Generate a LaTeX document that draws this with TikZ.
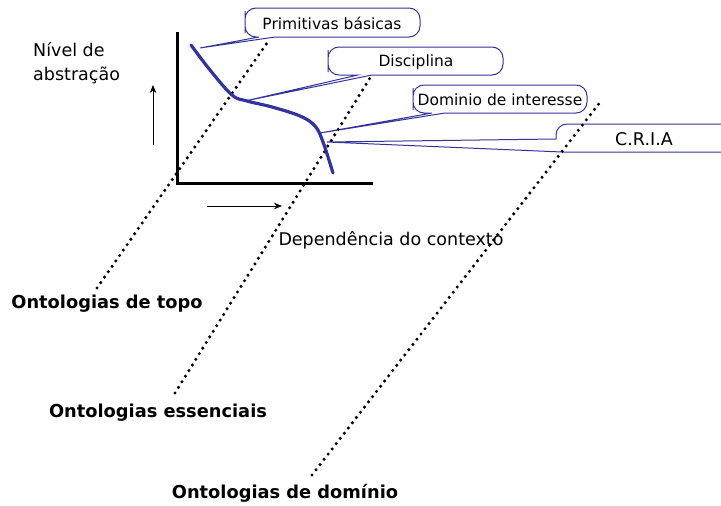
\documentclass[tikz,border=0pt]{standalone}
\usepackage{fontspec}
\setmainfont{DejaVu Sans}
\usetikzlibrary{arrows.meta}
\definecolor{calloutblue}{RGB}{51,51,153}
\definecolor{curveblue}{RGB}{51,51,160}
\tikzset{
  txt/.style={inner sep=0pt, font=\fontsize{15.5}{25}\selectfont},
  bigtxt/.style={inner sep=0pt, font=\fontsize{17.5}{25}\selectfont},
  boldtxt/.style={inner sep=0pt, font=\fontsize{17.8}{22}\selectfont\bfseries},
  callout/.style={draw=calloutblue, line width=1pt, fill=white},
  axis/.style={line width=3pt, black},
  dotline/.style={line width=3.4pt, line cap=round, dash pattern=on 0pt off 6.6pt, black},
  smallarrow/.style={line width=1pt, -{Stealth[length=8pt,width=6.5pt]}},
}
\begin{document}
\begin{tikzpicture}[x=1pt,y=-1pt]
\useasboundingbox (0,0) rectangle (721,506);
\clip (0,0) rectangle (721,506);

% axes
\coordinate (ytop) at (177,32);
\coordinate (origin) at (177,183);
\coordinate (xend) at (373,183);
\draw[axis] (ytop) -- (origin) -- (xend);

% small arrows
\coordinate (ua1) at (153,145);
\coordinate (ua2) at (153,85);
\draw[smallarrow] (ua1) -- (ua2);
\coordinate (ra1) at (207,206);
\coordinate (ra2) at (282,206);
\draw[smallarrow] (ra1) -- (ra2);

% dotted lines
\coordinate (d1a) at (97,288);  \coordinate (d1b) at (267,43);
\coordinate (d2a) at (175,393); \coordinate (d2b) at (370,78);
\coordinate (d3a) at (312,475); \coordinate (d3b) at (601,101);

% callouts
\draw[callout] (245,22) [rounded corners=11pt] -- (245,37) [sharp corners] -- (259,37) -- (200,48) -- (275,37) [rounded corners=11pt] -- (420,37) -- (420,8) -- (245,8) -- cycle;
\draw[callout] (328,61) [rounded corners=11pt] -- (328,75) [sharp corners] -- (358,75) -- (245,101) -- (372,75) [rounded corners=11pt] -- (503,75) -- (503,47) -- (328,47) -- cycle;
\draw[callout] (413,99) [rounded corners=11pt] -- (413,113) [sharp corners] -- (432,113) -- (320,133) -- (445,113) [rounded corners=11pt] -- (587,113) -- (587,85) -- (413,85) -- cycle;
\draw[callout] (620,124) [rounded corners=11pt] -- (556,124) [sharp corners] -- (556,139) -- (327,142) -- (562,152) [rounded corners=11pt] -- (745,152) -- (745,124) -- cycle;

% dotted lines on top
\draw[dotline] (d1a) -- (d1b);
\draw[dotline] (d2a) -- (d2b);
\draw[dotline] (d3a) -- (d3b);

% curve
\draw[curveblue, line width=3.2pt, line cap=round] plot[smooth, tension=0.6] coordinates {(191,45) (210,70) (232,95) (247,101) (272,107) (300,116) (315,126) (323,142) (333,173)};

% texts
\node[txt] (prim) at (332,23) {Primitivas básicas};
\node[txt] (disc) at (416,62) {Disciplina};
\node[txt] (dom) at (500,100) {Dominio de interesse};
\node[bigtxt] (cria) at (644,139) {C.R.I.A};
\node[bigtxt, anchor=west] (niv1) at (33,50) {Nível de};
\node[bigtxt, anchor=west] (niv2) at (33,75) {abstração};
\node[bigtxt] (dep) at (391,240) {Dependência do contexto};
\node[boldtxt] (topo) at (107,304) {Ontologias de topo};
\node[boldtxt] (ess) at (158,413) {Ontologias essenciais};
\node[boldtxt] (domi) at (285,493) {Ontologias de domínio};
\end{tikzpicture}
\end{document}
